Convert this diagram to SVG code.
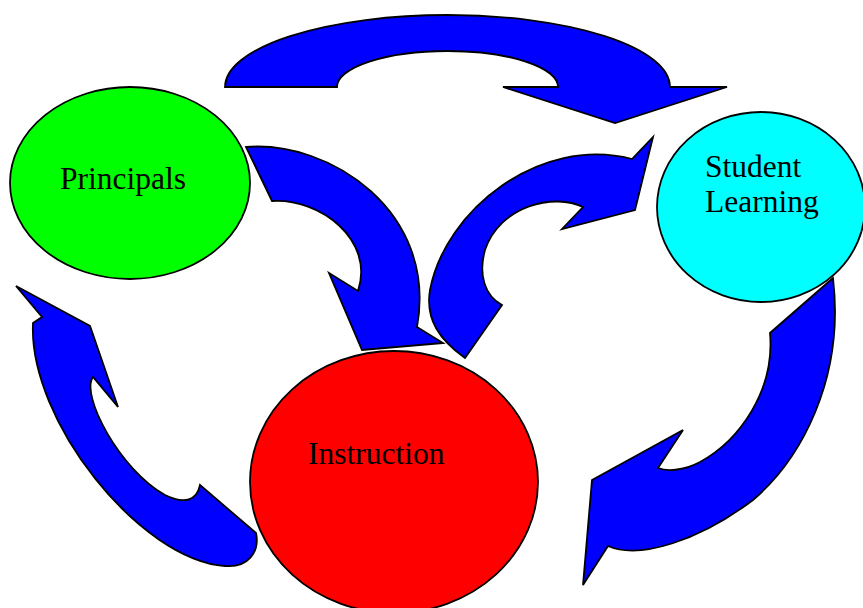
<svg xmlns="http://www.w3.org/2000/svg" width="863" height="608" viewBox="0 0 863 608">
<style>
.arr{fill:#0000ff;stroke:#000;stroke-width:1.8;stroke-linejoin:miter}
.node{stroke:#000;stroke-width:1.8}
.lbl{font-family:"Liberation Serif","Times New Roman",serif;font-size:31.5px;fill:#000}
</style>
<rect width="863" height="608" fill="#fff"/>
<g id="connectors">
<path id="arrow-top" class="arr" d="M225,87 A222.5,72 0 0 1 670,87 L727,87 L615,123 L503,87 L558,87 A110.5,36 0 0 0 337,87 Z"/>
<path id="arrow-principals-instruction" class="arr" d="M246,147 C330,140 438,212 417,327 L443,343 L362,350 L329,273 L358,291 C375,240 320,198 272,201 Z"/>
<path id="arrow-instruction-student" class="arr" d="M465,358 C440,340 425,320 430,290 C445,210 540,135 632,159 L653,137 L635,210 L562,229 L583,207 C555,193 500,205 485,250 C478,275 485,296 502,305 Z"/>
<path id="arrow-instruction-principals" class="arr" d="M16,286 L90,326 L118,407 L93,377 C80,395 120,470 165,495 C185,505 197,500 200,485 L256,533 C260,552 248,568 225,566 C140,560 28,420 33,323 L42,317 Z"/>
<path id="arrow-student-instruction" class="arr" d="M833,278 L770,333 C775,390 740,440 700,462 C685,470 668,472 658,468 L683,430 L592,480 L583,585 L608,546 C640,560 700,540 753,500 C800,460 845,380 833,278 Z"/>
</g>
<g id="principals">
<ellipse class="node" cx="130" cy="183" rx="120" ry="96" fill="#00ff00"/>
<text class="lbl" x="60" y="189">Principals</text>
</g>
<g id="student-learning">
<ellipse class="node" cx="761" cy="207" rx="104" ry="95" fill="#00ffff"/>
<text class="lbl" x="705" y="177">Student</text>
<text class="lbl" x="705" y="212">Learning</text>
</g>
<g id="instruction">
<ellipse class="node" cx="394" cy="482" rx="144" ry="131" fill="#ff0000"/>
<text class="lbl" x="308" y="464">Instruction</text>
</g>
</svg>
